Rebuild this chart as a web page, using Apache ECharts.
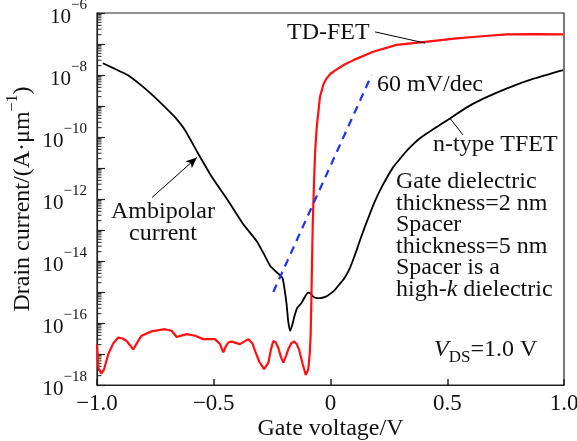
<!DOCTYPE html>
<html>
<head>
<meta charset="utf-8">
<script src="https://cdn.jsdelivr.net/npm/echarts@6/dist/echarts.min.js"></script>
<style>html,body{margin:0;padding:0;background:#fff}#c{width:577px;height:441px}</style>
</head>
<body>
<div id="c"></div>
<script>
// Gate voltage (V) and log10 of drain current (A/um)
const tfetV = [-0.975,-0.93,-0.867,-0.80,-0.752,-0.70,-0.666,-0.623,-0.567,-0.507,-0.439,-0.375,-0.316,-0.28,-0.259,-0.238,-0.215,-0.205,-0.195,-0.188,-0.181,-0.173,-0.165,-0.155,-0.143,-0.125,-0.109,-0.096,-0.085,-0.075,-0.06,-0.045,-0.02,-0.002,0.02,0.041,0.06,0.084,0.105,0.126,0.147,0.169,0.19,0.212,0.24,0.268,0.30,0.328,0.383,0.45,0.512,0.58,0.65,0.756,0.87,0.996];
const tfetLogI = [-7.62,-7.78,-8.01,-8.40,-8.72,-9.10,-9.36,-9.78,-10.53,-11.30,-12.05,-12.80,-13.36,-13.85,-14.15,-14.31,-14.47,-14.56,-15.0,-15.4,-15.95,-16.25,-16.1,-15.8,-15.52,-15.36,-15.15,-15.02,-15.05,-15.14,-15.2,-15.2,-15.15,-15.06,-14.92,-14.73,-14.55,-14.21,-13.8,-13.34,-12.9,-12.47,-12.08,-11.72,-11.33,-10.98,-10.68,-10.43,-10.04,-9.70,-9.40,-9.06,-8.78,-8.43,-8.12,-7.84];

const tdV = [-1.0,-0.994,-0.982,-0.97,-0.952,-0.93,-0.909,-0.89,-0.873,-0.845,-0.825,-0.809,-0.766,-0.709,-0.68,-0.659,-0.635,-0.616,-0.58,-0.545,-0.495,-0.473,-0.459,-0.448,-0.438,-0.423,-0.388,-0.352,-0.335,-0.323,-0.305,-0.284,-0.266,-0.255,-0.245,-0.235,-0.224,-0.212,-0.202,-0.19,-0.181,-0.168,-0.155,-0.145,-0.135,-0.12,-0.106,-0.095,-0.089,-0.085,-0.082,-0.079,-0.076,-0.072,-0.066,-0.059,-0.045,-0.030,-0.016,0.0,0.027,0.06,0.098,0.183,0.283,0.405,0.540,0.65,0.755,0.87,0.997];
const tdLogI = [-16.7,-17.45,-17.63,-17.5,-17.01,-16.65,-16.47,-16.5,-16.58,-16.85,-16.6,-16.41,-16.27,-16.20,-16.25,-16.45,-16.4,-16.36,-16.41,-16.52,-16.52,-16.68,-16.95,-16.75,-16.63,-16.60,-16.68,-16.52,-16.65,-16.90,-17.25,-17.49,-17.28,-16.85,-16.58,-16.62,-16.79,-17.1,-17.28,-17.05,-16.85,-16.65,-16.60,-16.68,-16.85,-17.3,-17.68,-17.49,-17.0,-16.4,-15.3,-14.0,-12.8,-11.8,-10.5,-9.69,-8.70,-8.30,-8.10,-7.96,-7.82,-7.66,-7.52,-7.25,-7.03,-6.93,-6.82,-6.75,-6.69,-6.68,-6.69];

// 60 mV/dec reference line endpoints
const refV = [-0.245, 0.176];
const refLogI = [-15.0, -8.0];

const xTicks = [-1.0, -0.5, 0, 0.5, 1.0];
const yMinExp = -18, yMaxExp = -6;

const FONT = 'Liberation Serif';
const toPts = (xs, ls) => xs.map((x, i) => [x, Math.pow(10, ls[i])]);

const minorData = [];
for (let n = yMinExp; n < yMaxExp; n++) {
  for (let k = 2; k <= 9; k++) minorData.push([-1, k * Math.pow(10, n)]);
}

const chart = echarts.init(document.getElementById('c'), null, {renderer: 'canvas'});
const axisColor = '#222';
chart.setOption({
  animation: false,
  backgroundColor: '#fff',
  grid: {left: 97, right: 13, top: 13, bottom: 56, containLabel: false, outerBoundsMode: 'none', show: true, borderColor: axisColor, borderWidth: 1.2, backgroundColor: 'transparent'},
  xAxis: {
    type: 'value', min: xTicks[0], max: xTicks[xTicks.length - 1], interval: 0.5,
    axisLine: {show: true, onZero: false, lineStyle: {color: axisColor, width: 1.2}},
    axisTick: {show: true, inside: true, length: 6, lineStyle: {color: axisColor, width: 1.5}},
    splitLine: {show: false},
    axisLabel: {
      fontFamily: FONT, fontSize: 23, color: '#111', margin: 7,
      formatter: v => (v === 0 ? '0' : (v < 0 ? '\u2212' : '') + Math.abs(v).toFixed(1))
    },
    name: 'Gate voltage/V', nameLocation: 'middle', nameGap: 32, nameMoveOverlap: false,
    nameTextStyle: {fontFamily: FONT, fontSize: 24, color: '#111'}
  },
  yAxis: {
    type: 'log', logBase: 10, min: Math.pow(10, yMinExp), max: Math.pow(10, yMaxExp), interval: 1,
    axisLine: {show: true, onZero: false, lineStyle: {color: axisColor, width: 1.2}},
    axisTick: {show: true, inside: true, length: 8, lineStyle: {color: axisColor, width: 1.2}},
    splitLine: {show: false},
    axisLabel: {
      margin: 10, color: '#111', showMinLabel: true, showMaxLabel: true,
      formatter: v => {
        const n = Math.round(Math.log10(v));
        if (n % 2 !== 0) return '';
        return '{b|10}{s|\u2212' + (-n) + '}';
      },
      rich: {
        b: {fontFamily: FONT, fontSize: 21, color: '#111', lineHeight: 30, verticalAlign: 'bottom'},
        s: {fontFamily: FONT, fontSize: 15, color: '#111', lineHeight: 15, verticalAlign: 'top'}
      }
    },
    name: '{n|Drain current/(A\u00b7\u03bcm}{s|\u22121}{n|)}', nameLocation: 'middle', nameGap: 62, nameMoveOverlap: false,
    nameTextStyle: {
      rich: {
        n: {fontFamily: FONT, fontSize: 24, color: '#111', lineHeight: 30, verticalAlign: 'bottom'},
        s: {fontFamily: FONT, fontSize: 16, color: '#111', lineHeight: 16, verticalAlign: 'top'}
      }
    }
  },
  series: [
    {
      type: 'custom', silent: true, clip: false, data: minorData,
      renderItem: (params, api) => {
        const p = api.coord([api.value(0), api.value(1)]);
        return {type: 'line', shape: {x1: p[0], y1: p[1], x2: p[0] + 4.5, y2: p[1]}, style: {stroke: axisColor, lineWidth: 1}};
      },
      z: 1
    },
    {
      name: 'TD-FET', type: 'line', data: toPts(tdV, tdLogI), showSymbol: false, smooth: false,
      lineStyle: {color: '#ff1010', width: 2.2}, z: 3
    },
    {
      name: 'n-type TFET', type: 'line', data: toPts(tfetV, tfetLogI), showSymbol: false, smooth: 0.2,
      lineStyle: {color: '#000', width: 1.8}, z: 2,
      markLine: {
        silent: true, animation: false, label: {show: false},
        lineStyle: {color: '#000', width: 1, type: 'solid'},
        data: [
          [{coord: [0.191, Math.pow(10, -6.61)], symbol: 'none'}, {coord: [0.405, Math.pow(10, -6.97)], symbol: 'none'}],
          [{coord: [0.512, Math.pow(10, -9.40)], symbol: 'none'}, {coord: [0.567, Math.pow(10, -9.93)], symbol: 'none'}],
          [{coord: [-0.764, Math.pow(10, -11.95)], symbol: 'none'}, {coord: [-0.572, Math.pow(10, -10.66)], symbol: 'arrow', symbolSize: [7, 11]}]
        ]
      }
    },
    {
      name: '60 mV/dec', type: 'line', data: toPts(refV, refLogI), showSymbol: false,
      lineStyle: {color: '#2233ee', width: 2.2, type: [8, 6]}, z: 4
    }
  ],
  graphic: [
    {type: 'text', x: 287, y: 21, style: {text: 'TD-FET', font: '24px "Liberation Serif"', fill: '#111'}},
    {type: 'text', x: 377, y: 73, style: {text: '60 mV/dec', font: '24px "Liberation Serif"', fill: '#111'}},
    {type: 'text', x: 433, y: 133, style: {text: 'n-type TFET', font: '24px "Liberation Serif"', fill: '#111'}},
    {type: 'text', x: 163, y: 201, style: {text: 'Ambipolar\ncurrent', font: '24px "Liberation Serif"', fill: '#111', align: 'center', lineHeight: 22}},
    {type: 'text', x: 396, y: 171, style: {
      text: 'Gate dielectric\nthickness=2 nm\nSpacer\nthickness=5 nm\nSpacer is a\n{n|high-}{i|k}{n| dielectric}',
      font: '24px "Liberation Serif"', fill: '#111', lineHeight: 21.6,
      rich: {n: {fontFamily: FONT, fontSize: 24, fill: '#111', lineHeight: 21.6}, i: {fontFamily: FONT, fontSize: 24, fontStyle: 'italic', fill: '#111', lineHeight: 21.6}}
    }},
    {type: 'text', x: 434, y: 338, style: {
      text: '{i|V}{sub|DS}{n|=1.0 V}',
      rich: {
        i: {fontFamily: FONT, fontSize: 24, fontStyle: 'italic', fill: '#111', lineHeight: 28, verticalAlign: 'top'},
        sub: {fontFamily: FONT, fontSize: 17, fill: '#111', lineHeight: 17, verticalAlign: 'bottom'},
        n: {fontFamily: FONT, fontSize: 24, fill: '#111', lineHeight: 28, verticalAlign: 'top'}
      }
    }}
  ]
});
</script>
</body>
</html>
